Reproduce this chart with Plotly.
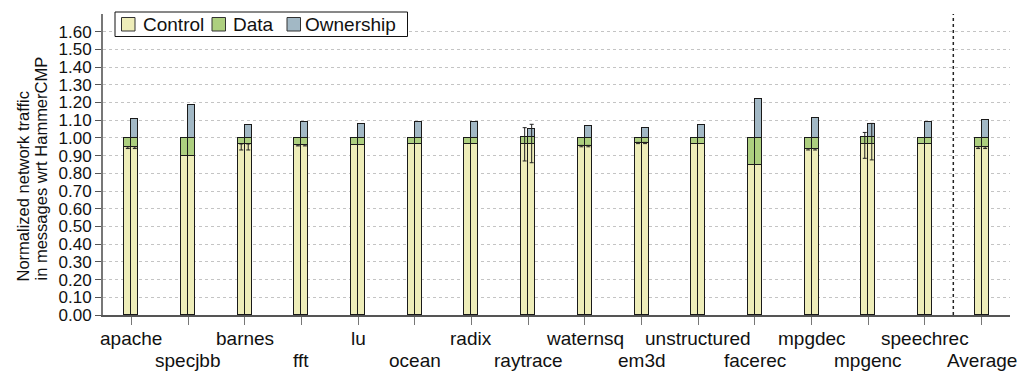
import plotly.graph_objects as go

# Benchmarks (x categories)
benchmarks = ["apache", "specjbb", "barnes", "fft", "lu", "ocean", "radix", "raytrace",
              "waternsq", "em3d", "unstructured", "facerec", "mpgdec", "mpgenc",
              "speechrec", "Average"]

# Left bar of each pair: HammerCMP baseline (Control + Data)
ctrl_base = [0.947, 0.896, 0.966, 0.962, 0.962, 0.964, 0.964, 0.964,
             0.957, 0.974, 0.964, 0.849, 0.940, 0.964, 0.964, 0.947]
data_base = [0.053, 0.104, 0.034, 0.038, 0.038, 0.036, 0.036, 0.041,
             0.043, 0.026, 0.036, 0.151, 0.060, 0.041, 0.036, 0.053]

# Right bar of each pair: Control + Data + Ownership
ctrl_new = [0.947, 0.898, 0.966, 0.962, 0.962, 0.964, 0.964, 0.968,
            0.957, 0.974, 0.964, 0.849, 0.936, 0.964, 0.964, 0.947]
data_new = [0.053, 0.102, 0.034, 0.038, 0.038, 0.036, 0.036, 0.039,
            0.043, 0.026, 0.036, 0.151, 0.064, 0.041, 0.036, 0.053]
own_new = [0.109, 0.185, 0.075, 0.088, 0.077, 0.088, 0.092, 0.041,
           0.068, 0.056, 0.071, 0.220, 0.113, 0.074, 0.090, 0.100]

# Variability ranges (low / high) shown as error bars
err_lo_base = [0.940, None, 0.932, 0.955, None, None, None, 0.870,
               0.950, 0.968, None, None, 0.932, 0.885, None, 0.940]
err_hi_base = [0.950, None, 0.966, 0.962, None, None, None, 1.058,
               0.958, 0.975, None, None, 0.940, 1.031, None, 0.950]
err_lo_new = [0.940, None, 0.932, 0.955, None, None, None, 0.860,
              0.950, 0.968, None, None, 0.932, 0.876, None, 0.940]
err_hi_new = [0.950, None, 0.966, 0.962, None, None, None, 1.077,
              0.958, 0.975, None, None, 0.940, 1.082, None, 0.950]

y_ticks = [round(0.1 * k, 1) for k in range(17)]

series_names = ["Control", "Data", "Ownership"]
series_colors = ["#EEEDB9", "#ADCF7F", "#A2B8C5"]

FONT = "Liberation Sans, Arial, Helvetica, sans-serif"
TEXT = "#111111"
OUTLINE = dict(color="#1a1a1a", width=1)

# Plot-area geometry in pixels (used to place the legend box)
W, H = 1023, 372
ML, MR, MT, MB = 103, 13, 14, 57
PW, PH = W - ML - MR, H - MT - MB


def px_x(p):
    return (p - ML) / PW


def px_y(p):
    return (H - MB - p) / PH


BAR_W = 0.1235
n = len(benchmarks)
x_left = [i - BAR_W / 2 for i in range(n)]
x_right = [i + BAR_W / 2 for i in range(n)]

fig = go.Figure()


def bar(x, y, color):
    return go.Bar(x=x, y=y, width=BAR_W, showlegend=False,
                  marker=dict(color=color, line=OUTLINE), hoverinfo="skip")


fig.add_trace(bar(x_left, ctrl_base, series_colors[0]))
fig.add_trace(bar(x_right, ctrl_new, series_colors[0]))
fig.add_trace(bar(x_left, data_base, series_colors[1]))
fig.add_trace(bar(x_right, data_new, series_colors[1]))
fig.add_trace(bar(x_right, own_new, series_colors[2]))


def err_trace(x, lo, hi):
    yc, ev = [], []
    for a, b in zip(lo, hi):
        if a is None:
            yc.append(None)
            ev.append(None)
        else:
            yc.append((a + b) / 2)
            ev.append((b - a) / 2)
    return go.Scatter(x=x, y=yc, mode="markers", showlegend=False, hoverinfo="skip",
                      marker=dict(size=1, color="rgba(0,0,0,0)"),
                      error_y=dict(type="data", array=ev, symmetric=True,
                                   color="#222222", thickness=1, width=2))


fig.add_trace(err_trace(x_left, err_lo_base, err_hi_base))
fig.add_trace(err_trace(x_right, err_lo_new, err_hi_new))

# Separator before the average
fig.add_shape(type="line", xref="x", yref="y", x0=n - 1.5, x1=n - 1.5, y0=0, y1=1.7,
              line=dict(color="#222222", width=1.5, dash="dot"))

# Category labels on two alternating rows
for i, name in enumerate(benchmarks):
    fig.add_annotation(x=i, xref="x", y=0, yref="paper", yanchor="middle",
                       yshift=-23 if i % 2 == 0 else -45, text=name, showarrow=False,
                       font=dict(family=FONT, size=19, color=TEXT))

# Y axis title (two lines)
fig.add_annotation(x=0, xref="paper", xanchor="center", xshift=-81,
                   y=0.5, yref="paper", yanchor="middle", yshift=-22,
                   text="Normalized network traffic", textangle=-90, showarrow=False,
                   font=dict(family=FONT, size=16.5, color=TEXT))
fig.add_annotation(x=0, xref="paper", xanchor="center", xshift=-63,
                   y=0.5, yref="paper", yanchor="middle", yshift=-4,
                   text="in messages wrt HammerCMP", textangle=-90, showarrow=False,
                   font=dict(family=FONT, size=16.5, color=TEXT))

# Legend: framed row of swatches and names
fig.add_shape(type="rect", xref="paper", yref="paper",
              x0=px_x(115), x1=px_x(407.5), y0=px_y(36.5), y1=px_y(12),
              fillcolor="white", line=dict(color=TEXT, width=1), layer="above")
swatch_left = [121.5, 212, 287]
text_left = [141, 231, 303]
for name, color, sx, tx in zip(series_names, series_colors, swatch_left, text_left):
    fig.add_shape(type="rect", xref="paper", yref="paper",
                  x0=px_x(sx), x1=px_x(sx + 13.5), y0=px_y(31), y1=px_y(17.5),
                  fillcolor=color, line=dict(color="#333333", width=1), layer="above")
    fig.add_annotation(x=px_x(tx), xref="paper", xanchor="left",
                       y=px_y(24.5), yref="paper", yanchor="middle",
                       text=name, showarrow=False,
                       font=dict(family=FONT, size=19, color=TEXT))

fig.update_layout(
    width=W, height=H,
    margin=dict(l=ML, r=MR, t=MT, b=MB),
    barmode="stack",
    bargap=0,
    plot_bgcolor="white", paper_bgcolor="white",
    font=dict(family=FONT, size=19, color=TEXT),
    showlegend=False,
    xaxis=dict(range=[-0.5, n - 0.5], tickvals=list(range(n)), showticklabels=False,
               ticks="outside", ticklen=8, tickcolor="#777777", tickwidth=1,
               showgrid=False, zeroline=False, showline=True,
               linecolor="#555555", linewidth=2),
    yaxis=dict(range=[0, 1.7], tickvals=y_ticks, tickformat=".2f",
               ticks="outside", ticklen=6, tickcolor="#555555", tickwidth=1,
               showgrid=True, gridcolor="#c4c4c4", gridwidth=1, griddash="dot",
               zeroline=False, showline=True, linecolor="#777777", linewidth=2,
               tickfont=dict(family=FONT, size=17)),
)

fig.write_html("out.html")
